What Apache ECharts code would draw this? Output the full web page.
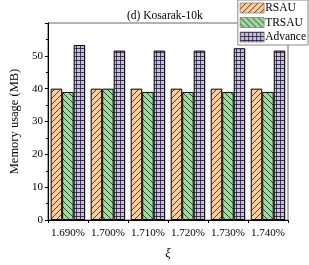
<!DOCTYPE html>
<html><head><meta charset="utf-8">
<script src="https://cdn.jsdelivr.net/npm/echarts@6/dist/echarts.min.js"></script>
<style>html,body{margin:0;padding:0;background:#fff}#c{width:309px;height:265px}</style>
</head><body><div id="c"></div>
<script>
const categories = ['1.690%','1.700%','1.710%','1.720%','1.730%','1.740%'];
const rsau = [40, 40, 40, 40, 40, 40];
const trsau = [39, 40, 39, 39, 39, 39];
const advance = [53.3, 51.6, 51.6, 51.6, 52.3, 51.6];
const seriesNames = ['RSAU','TRSAU','Advance'];
const yTicks = [0, 10, 20, 30, 40, 50];

function makePattern(bg, type) {
  const c = document.createElement('canvas');
  const s = type === 'grid' ? 4 : 6;
  c.width = s; c.height = s;
  const g = c.getContext('2d');
  g.fillStyle = bg; g.fillRect(0, 0, s, s);
  g.strokeStyle = 'rgba(30,30,30,0.9)';
  g.lineWidth = 0.9;
  g.beginPath();
  if (type === 'fwd') {
    g.moveTo(-1, s + 1); g.lineTo(s + 1, -1);
    g.moveTo(-1, 1); g.lineTo(1, -1);
    g.moveTo(s - 1, s + 1); g.lineTo(s + 1, s - 1);
  } else if (type === 'back') {
    g.moveTo(-1, -1); g.lineTo(s + 1, s + 1);
    g.moveTo(s - 1, -1); g.lineTo(s + 1, 1);
    g.moveTo(-1, s - 1); g.lineTo(1, s + 1);
  } else {
    g.moveTo(0, 0.5); g.lineTo(s, 0.5);
    g.moveTo(0.5, 0); g.lineTo(0.5, s);
  }
  g.stroke();
  return { image: c, repeat: 'repeat' };
}

const font = 'Liberation Serif';
const chart = echarts.init(document.getElementById('c'), null, { renderer: 'canvas' });
const mk = (name, data, pat) => ({
  name, type: 'bar', data, barWidth: 11.5, barGap: '0%',
  itemStyle: { color: pat, borderColor: '#000', borderWidth: 1 }
});
chart.setOption({
  animation: false,
  title: { text: '(d) Kosarak-10k', left: 122, top: 5,
    textStyle: { fontFamily: font, fontSize: 11.5, fontWeight: 'normal', color: '#000' } },
  legend: {
    data: seriesNames, orient: 'vertical', right: 1, top: 0, icon: 'rect',
    itemWidth: 24, itemHeight: 10, itemGap: 2.5,
    padding: [2, 2, 2, 2],
    backgroundColor: '#fff', borderColor: '#888', borderWidth: 1, borderRadius: 0,
    itemStyle: { borderColor: '#666', borderWidth: 0.6 },
    textStyle: { fontFamily: font, fontSize: 11.5, color: '#000', padding: [0, 0, 0, -4] }
  },
  grid: { left: 30, right: 21, top: 23, bottom: 35, show: true, borderColor: '#666', borderWidth: 1, backgroundColor: 'transparent' },
  xAxis: {
    type: 'category', data: categories,
    name: 'ξ', nameLocation: 'middle', nameGap: 27,
    nameTextStyle: { fontFamily: font, fontSize: 13, fontStyle: 'italic', color: '#000' },
    axisLine: { lineStyle: { color: '#000', width: 1 } },
    axisTick: { show: true, length: 3, lineStyle: { color: '#000' } },
    axisLabel: { interval: 0, fontFamily: font, fontSize: 11, color: '#000', margin: 8 }
  },
  yAxis: {
    type: 'value', min: 0, max: 60, interval: 10,
    name: 'Memory usage (MB)', nameLocation: 'middle', nameGap: 19,
    nameTextStyle: { fontFamily: font, fontSize: 12.5, color: '#000' },
    axisLine: { show: true, lineStyle: { color: '#000', width: 1 } },
    axisTick: { show: true, length: 3, lineStyle: { color: '#000' } },
    minorTick: { show: true, splitNumber: 2, length: 2, lineStyle: { color: '#000' } },
    splitLine: { show: false },
    axisLabel: { fontFamily: font, fontSize: 11, color: '#000', margin: 5,
      formatter: v => (yTicks.indexOf(v) >= 0 ? String(v) : '') }
  },
  series: [
    mk(seriesNames[0], rsau, makePattern('#FFCC99', 'fwd')),
    mk(seriesNames[1], trsau, makePattern('#9FDB9F', 'back')),
    mk(seriesNames[2], advance, makePattern('#C9BDEB', 'grid'))
  ]
});
</script></body></html>
